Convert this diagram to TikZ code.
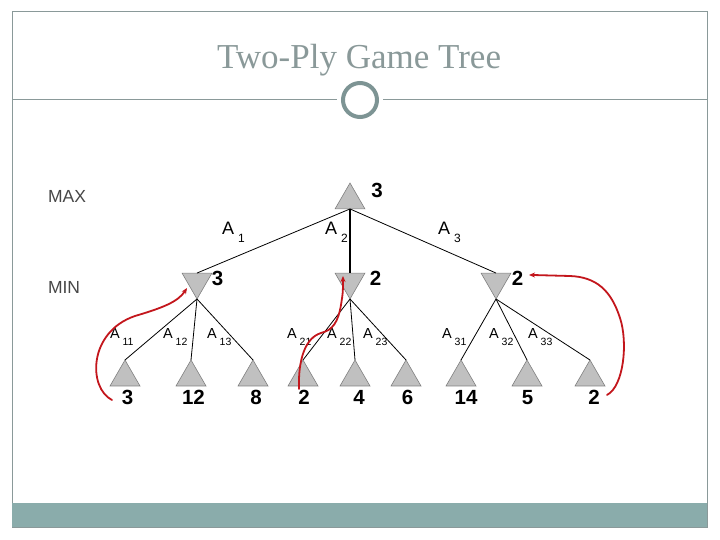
\documentclass[tikz,border=0pt]{standalone}
\usepackage{fontspec}
\setmainfont{Liberation Serif}
\setsansfont{Liberation Sans}
\usepackage{tikz}
\usetikzlibrary{arrows.meta,shapes.geometric}

\definecolor{framegray}{HTML}{8A9999}
\definecolor{ringgray}{HTML}{7D9494}
\definecolor{bargray}{HTML}{8AACAB}
\definecolor{nodegray}{HTML}{C0C0C0}
\definecolor{markred}{HTML}{C3161C}

\newcommand{\actA}[1]{A\hspace{4pt}\raisebox{-8pt}{\fontsize{12}{12}\selectfont #1}}
\newcommand{\actB}[1]{A\hspace{3pt}\raisebox{-7pt}{\fontsize{10.5}{10.5}\selectfont #1}}

\begin{document}
\begin{tikzpicture}[
    x=1pt, y=-1pt,
    every node/.style={inner sep=0pt, outer sep=0pt},
    maxtri/.style={regular polygon, regular polygon sides=3, minimum size=34.6pt,
                   fill=nodegray, draw=gray, line width=0.6pt},
    mintri/.style={maxtri, shape border rotate=180},
    value/.style={font=\sffamily\bfseries\fontsize{20.5}{20.5}\selectfont, anchor=base},
    actone/.style={font=\sffamily\fontsize{18}{18}\selectfont, anchor=base west},
    acttwo/.style={font=\sffamily\fontsize{14.5}{14.5}\selectfont, anchor=base west},
    level/.style={font=\sffamily\fontsize{17.5}{17.5}\selectfont, text=black!72, anchor=base west},
    edge/.style={line width=0.8pt},
    hint/.style={draw=markred, line width=1.8pt, line cap=round,
                 -{Stealth[length=6pt,width=5pt]}}
]
\useasboundingbox (0,0) rectangle (720,540);

% Slide frame
\draw[framegray, line width=1pt] (12,12) rectangle (707,527);
\fill[bargray] (12,503) rectangle (707,527);
\draw[framegray, line width=1pt] (12,100) -- (337,100);
\draw[framegray, line width=1pt] (383,100) -- (707,100);
\draw[ringgray, line width=4pt] (360,100) circle (17);
\node[font=\fontsize{35}{40}\selectfont, text=framegray, anchor=base] (title)
    at (359,69) {Two-Ply Game Tree};

% Levels
\node[level] (maxlab) at (48,203) {MAX};
\node[level] (minlab) at (48,293) {MIN};

% Nodes
\node[maxtri] (root) at (350,200.3) {};
\node[mintri] (m1) at (197,281.7) {};
\node[mintri] (m2) at (350,281.7) {};
\node[mintri] (m3) at (496,281.7) {};

\node[maxtri] (l11) at (125,377.3) {};
\node[maxtri] (l12) at (191,377.3) {};
\node[maxtri] (l13) at (253,377.3) {};
\node[maxtri] (l21) at (303,377.3) {};
\node[maxtri] (l22) at (355,377.3) {};
\node[maxtri] (l23) at (406,377.3) {};
\node[maxtri] (l31) at (461,377.3) {};
\node[maxtri] (l32) at (527,377.3) {};
\node[maxtri] (l33) at (590,377.3) {};

% Edges
\draw[edge] (root.side 2) -- (m1.side 2);
\draw[line width=2pt] (root.side 2) -- (m2.side 2);
\draw[edge] (root.side 2) -- (m3.side 2);
\foreach \m in {1,2,3}
  \foreach \l in {1,2,3}
    \draw[edge] (m\m.corner 1) -- (l\m\l.corner 1);

% Values
\node[value] (v0) at (377,197) {3};
\node[value] (v1) at (217.5,285) {3};
\node[value] (v2) at (375.5,285) {2};
\node[value] (v3) at (517.5,285) {2};
\node[value] (v11) at (127.5,404) {3};
\node[value] (v12) at (193.5,404) {12};
\node[value] (v13) at (256,404) {8};
\node[value] (v21) at (304,404) {2};
\node[value] (v22) at (359,404) {4};
\node[value] (v23) at (407.5,404) {6};
\node[value] (v31) at (466,404) {14};
\node[value] (v32) at (527.5,404) {5};
\node[value] (v33) at (594,404) {2};

% Action labels
\node[actone] (a1) at (222,235) {\actA{1}};
\node[actone] (a2) at (325,235) {\actA{2}};
\node[actone] (a3) at (438,235) {\actA{3}};
\node[acttwo] (a11) at (110,338) {\actB{11}};
\node[acttwo] (a12) at (163,338) {\actB{12}};
\node[acttwo] (a13) at (207,338) {\actB{13}};
\node[acttwo] (a21) at (287,338) {\actB{21}};
\node[acttwo] (a22) at (327,338) {\actB{22}};
\node[acttwo] (a23) at (363,338) {\actB{23}};
\node[acttwo] (a31) at (442,338) {\actB{31}};
\node[acttwo] (a32) at (489,338) {\actB{32}};
\node[acttwo] (a33) at (528,338) {\actB{33}};

% Red backups
\coordinate (h1s) at (112,400);
\coordinate (h1e) at (187,288);
\coordinate (h2s) at (299,389);
\coordinate (h2e) at (343,276);
\coordinate (h3s) at (607,395);
\coordinate (h3e) at (529,275);

\draw[hint] (h1s) .. controls (88,388) and (88,332) .. (135,316)
    .. controls (162,308) and (178,302) .. (h1e);
\draw[hint] (h2s) .. controls (298,360) and (305,338) .. (321,333)
    .. controls (333,330) and (338,322) .. (341,305)
    .. controls (343,292) .. (h2e);
\draw[hint] (h3s) .. controls (624,386) and (628,342) .. (620,318)
    .. controls (611,290) and (596,277) .. (570,276)
    .. controls (552,275) .. (h3e);

\end{tikzpicture}
\end{document}
